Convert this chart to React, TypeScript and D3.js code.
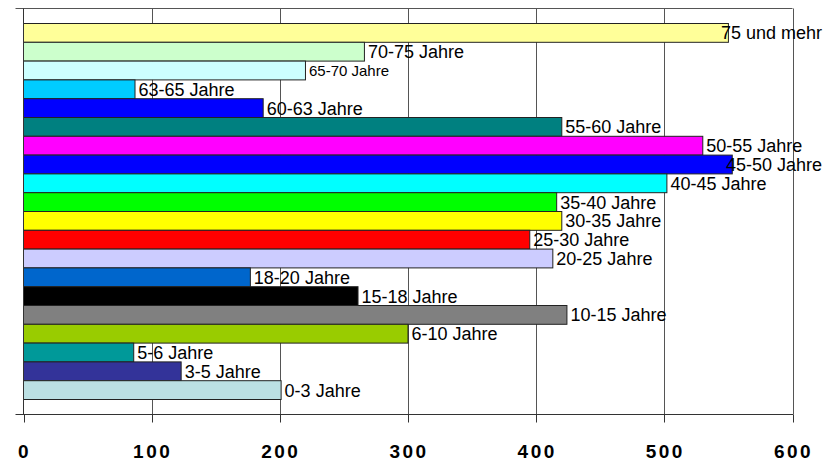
import React, { useEffect, useRef } from 'react'
import * as d3 from 'd3'

// age groups, top to bottom as in the chart
const categories = [
    '75 und mehr', '70-75 Jahre', '65-70 Jahre', '63-65 Jahre', '60-63 Jahre',
    '55-60 Jahre', '50-55 Jahre', '45-50 Jahre', '40-45 Jahre', '35-40 Jahre',
    '30-35 Jahre', '25-30 Jahre', '20-25 Jahre', '18-20 Jahre', '15-18 Jahre',
    '10-15 Jahre', '6-10 Jahre', '5-6 Jahre', '3-5 Jahre', '0-3 Jahre',
]
const values = [550, 266, 220, 87, 187, 420, 530, 553, 502, 416, 420, 395, 413, 177, 261, 424, 300, 86, 123, 201]
const barColors = [
    '#FFFF99', '#CCFFCC', '#CCFFFF', '#00CCFF', '#0000FF',
    '#008080', '#FF00FF', '#0000FF', '#00FFFF', '#00FF00',
    '#FFFF00', '#FF0000', '#CCCCFF', '#0066CC', '#000000',
    '#808080', '#99CC00', '#009999', '#333399', '#BBE0E3',
]
const xTicks = [0, 100, 200, 300, 400, 500, 600]

const W = 839
const H = 462
const smallLabels = new Set(['65-70 Jahre'])

export default function App() {
    const svgRef = useRef<SVGSVGElement>(null)

    useEffect(() => {
        if (!svgRef.current) return
        const svg = d3.select(svgRef.current)
        svg.selectAll('*').remove()

        const left = 23.5, right = 792.5, top = 8.5, bottom = 414.5
        const x = d3.scaleLinear().domain([0, 600]).range([left, right])
        const y = d3.scaleBand<string>().domain(categories).range([top + 15, bottom - 15]).padding(0)

        const rows = categories.map((c, i) => ({ name: c, value: values[i], color: barColors[i] }))

        // gridlines + frame
        svg.append('g').selectAll('line')
            .data(xTicks.slice(1))
            .enter().append('line')
            .attr('x1', d => Math.round(x(d)) + 0.5).attr('x2', d => Math.round(x(d)) + 0.5)
            .attr('y1', top).attr('y2', bottom)
            .attr('stroke', '#555')
        svg.append('line').attr('x1', 15.5).attr('x2', right).attr('y1', top).attr('y2', top).attr('stroke', '#555')

        // bars
        svg.append('g').selectAll('rect')
            .data(rows)
            .enter().append('rect')
            .attr('x', left)
            .attr('y', d => y(d.name)!)
            .attr('width', d => x(d.value) - left)
            .attr('height', y.bandwidth())
            .attr('fill', d => d.color)
            .attr('stroke', '#222')
            .attr('stroke-width', 1)

        // axes
        svg.append('line').attr('x1', left).attr('x2', left).attr('y1', top).attr('y2', bottom).attr('stroke', '#333')
        svg.append('line').attr('x1', 15.5).attr('x2', right + 0.5).attr('y1', bottom).attr('y2', bottom).attr('stroke', '#333')
        svg.append('g').selectAll('line')
            .data(xTicks)
            .enter().append('line')
            .attr('x1', d => Math.round(x(d)) + 0.5).attr('x2', d => Math.round(x(d)) + 0.5)
            .attr('y1', bottom).attr('y2', bottom + 8)
            .attr('stroke', '#333')
        svg.append('g').selectAll('text')
            .data(xTicks)
            .enter().append('text')
            .attr('x', d => x(d) + 1)
            .attr('y', 457.5)
            .attr('text-anchor', 'middle')
            .style('font-family', 'Arial, "Liberation Sans", sans-serif')
            .style('font-size', '19px')
            .style('font-weight', 'bold')
            .style('letter-spacing', '2.5px')
            .style('fill', '#000')
            .text(d => d)

        // data labels
        const labels = svg.append('g').selectAll('text')
            .data(rows)
            .enter().append('text')
            .attr('y', d => y(d.name)! + y.bandwidth() / 2)
            .attr('dy', '0.36em')
            .style('font-family', 'Arial, "Liberation Sans", sans-serif')
            .style('font-size', d => smallLabels.has(d.name) ? '15px' : '18px')
            .style('fill', '#000')
            .text(d => d.name)
        labels.each(function (d) {
            const el = this as SVGTextElement
            const w = el.getComputedTextLength()
            const px = Math.min(x(d.value) + 3.5, 822 - w)
            d3.select(el).attr('x', px)
        })
    }, [])

    return <svg ref={svgRef} width={W} height={H} style={{ position: 'absolute', left: 0, top: 0, background: '#fff' }} />
}
